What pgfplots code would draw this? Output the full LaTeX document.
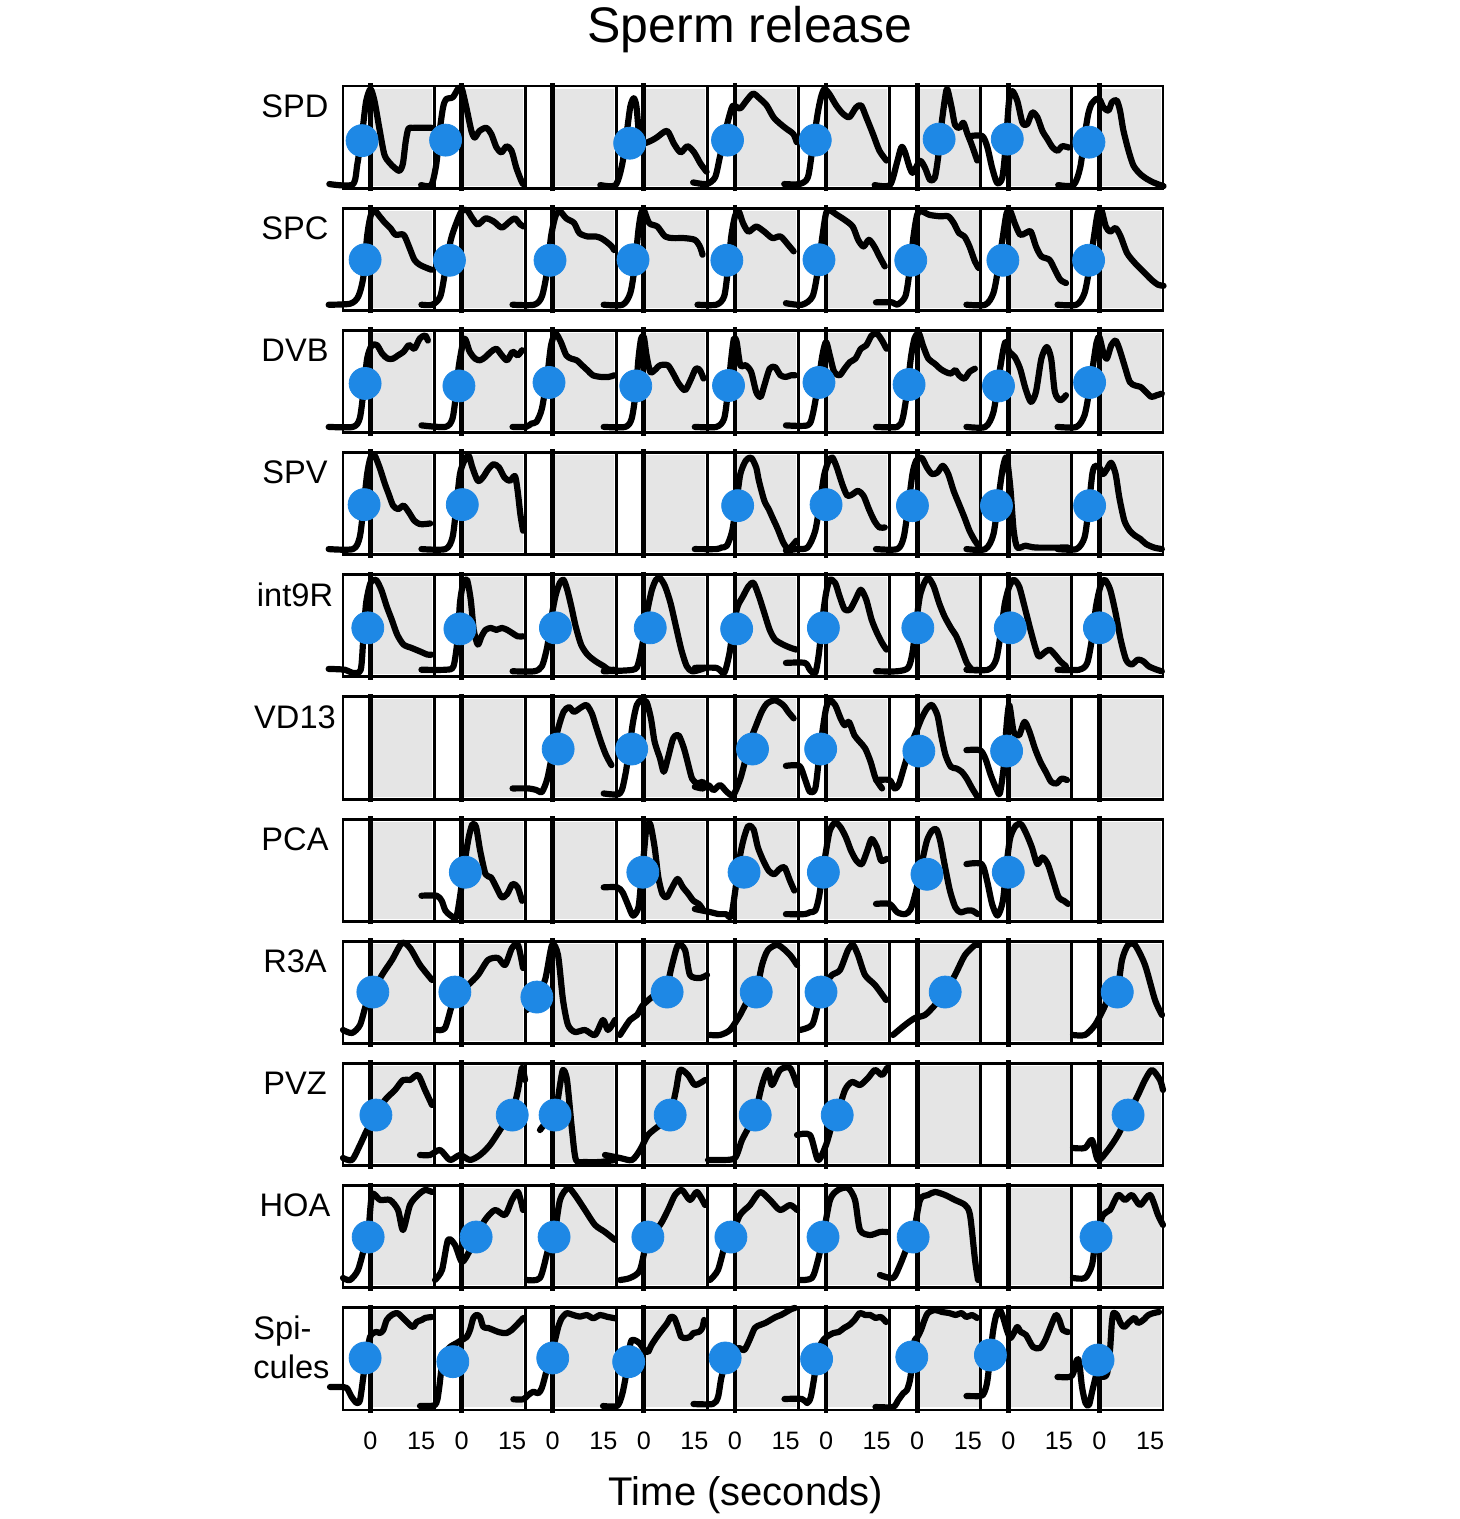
\documentclass[border=0pt]{standalone}
\usepackage{fontspec}
\setmainfont{Liberation Sans}
\usepackage{pgfplots}
\usepackage{pgfplotstable}
\pgfplotsset{compat=1.18}
\definecolor{dotblue}{HTML}{1E88E5}
\definecolor{panelgray}{HTML}{E5E5E5}
\pgfplotsset{trace/.style={black, line width=3.1pt, line join=round, line cap=round, smooth, tension=0.45}}
% panel trace: time (s) relative to the 0 line, signal 0-100 of panel height
\newcommand{\tr}[3]{\addplot[trace, x filter/.expression={x+27*#1}, y filter/.expression={y-119.6*#2}] coordinates {#3};}
% trace given in picture pixels (x from left, y from top)
\newcommand{\trpx}[1]{\addplot[trace, x filter/.expression={(x-370.5)/3.3745}, y filter/.expression={100-(y-86)/1.0216}] coordinates {#1};}

\pgfplotstableread{
c r t v
0 0 -2.5 46.5
1 0 -4.75 47
3 0 -4.2 44
4 0 -2.2 47
5 0 -3.2 47
6 0 6.5 48
7 0 -0.3 48
8 0 -3.1 45
0 1 -1.6 49.5
1 1 -3.6 49
2 1 -0.8 49
3 1 -3.2 49.5
4 1 -2.4 49
5 1 -2.1 49.5
6 1 -1.9 49
7 1 -1.6 49
8 1 -3.2 49
0 2 -1.6 48
1 2 -0.8 45.6
2 2 -1.1 49
3 2 -2.4 45.6
4 2 -1.9 46
5 2 -2.1 49
6 2 -2.4 47
7 2 -2.9 45.6
8 2 -2.9 49
0 3 -1.9 49
1 3 0.2 49
4 3 0.8 48
5 3 0 49
6 3 -1.4 48
7 3 -3.5 48
8 3 -2.9 48
0 4 -0.8 48
1 4 -0.5 47
2 4 0.8 48
3 4 1.9 48
4 4 0.5 47
5 4 -0.8 48
6 4 0.2 48
7 4 0.6 48
8 4 0 48
2 5 1.6 49
3 5 -3.6 49
4 5 5.2 49
5 5 -1.6 49
6 5 0.5 47
7 5 -0.5 47
1 6 1.1 48
3 6 -0.3 48
4 6 2.7 48
5 6 -0.8 48
6 6 2.9 46
7 6 0 48
0 7 0.7 50.3
1 7 -2.0 50.3
2 7 -4.7 45.4
3 7 6.9 50.3
4 7 6.3 50.3
5 7 -1.5 50.3
6 7 8.3 50.3
8 7 5.3 50.3
0 8 1.6 49.5
1 8 15.0 49.5
2 8 0.7 49.5
3 8 7.8 49.5
4 8 6.0 49.5
5 8 3.3 49.5
8 8 8.5 49.5
0 9 -0.7 49.7
1 9 4.3 49.7
2 9 0.4 49.7
3 9 1.2 49.7
4 9 -1.2 49.7
5 9 -0.9 49.7
6 9 -1.2 49.7
8 9 -1.0 49.7
0 10 -1.6 50.9
1 10 -2.6 47.3
2 10 0 50.9
3 10 -4.5 47.3
4 10 -2.9 50.9
5 10 -2.8 49.9
6 10 -1.6 51.9
7 10 -5.3 53.8
8 10 -0.4 48.9
}\dotdata

\begin{document}
\begin{tikzpicture}
\path (0,0) rectangle (730pt,759.5pt);
\begin{scope}[shift={(185.251pt,665.420pt)}, x=1.687243pt, y=0.510802pt]
\foreach \r in {0,...,10}{
 \foreach \c in {0,...,8}{
   \pgfmathsetmacro{\X}{27*\c}
   \pgfmathsetmacro{\Y}{-119.6*\r}
   \fill[panelgray] (\X+0.5,\Y+2.5) rectangle (\X+18.2,\Y+97.5);
   \draw[line width=1.45pt] (\X-8.15,\Y) rectangle (\X+18.85,\Y+100);
   \draw[line width=2.4pt] (\X,\Y-3) -- (\X,\Y+103);
 }}
\end{scope}
\begin{axis}[at={(171.5pt,716.5pt)}, anchor=north west, scale only axis,
  width=410pt, height=662pt, xmin=-8.15, xmax=234.85, ymin=-1196, ymax=100,
  clip=false, axis y line=none, axis x line*=bottom, x axis line style={draw=none},
  major tick length=0pt,
  xtick={0,15,27,42,54,69,81,96,108,123,135,150,162,177,189,204,216,231},
  xticklabels={0,15,0,15,0,15,0,15,0,15,0,15,0,15,0,15,0,15},
  xticklabel style={anchor=base, yshift=-19.6pt, font=\fontsize{12.6pt}{15pt}\selectfont}]
% ---- SPD
\tr{0}{0}{(-12.2,4)(-5.3,3.5)(-3.9,23.6)(-2.4,56)(-1.3,85)(0,97)(1.2,85)(2.6,59)(4.1,33)(5.6,25)(7.1,20)(8.6,17)(9.6,24)(10.4,45)(11.2,58)(12.5,59)(18.7,59)}
\tr{1}{0}{(-12,3)(-9,3)(-7.5,23.6)(-6.5,56)(-5.5,79)(-4.6,87)(-2.6,89)(-1.1,97)(0,98)(1.4,79)(2.9,56)(3.9,49.5)(5.3,56)(7.3,59)(8.8,53)(10.3,40)(11.8,35)(13.3,41)(14.8,36.6)(16.2,20)(17.7,7)(18.2,4)}
\tr{3}{0}{(-12.9,3)(-8.4,3)(-6.4,23.6)(-5.0,56)(-4.0,80)(-3.0,88)(-2.2,80)(-1.3,50)(0,44)(2.5,47)(4,50)(6.9,56)(8.9,43.6)(10.9,35)(12.9,41)(14.9,35)(16.8,24)(18.6,16)}
\tr{4}{0}{(-12.4,5.6)(-8.4,4)(-5.9,10.5)(-4.5,30)(-3.0,53)(-1.5,72.8)(-0.5,81)(1.5,78)(3.5,86)(5.4,92.5)(7.4,87.5)(9.4,81)(11.4,69.5)(13.4,63)(15.3,58)(17.3,53)(18.3,45)}
\tr{5}{0}{(-12.4,4)(-7.9,4)(-5.4,10.5)(-4.0,39.7)(-2.5,72.8)(-1.5,89)(-0.5,97)(1.0,92)(3.0,81)(5.0,72.8)(6.9,69.5)(8.9,79)(10.4,81)(11.9,69.5)(13.9,53)(15.8,36.7)(17.9,27)}
\tr{6}{0}{(-12.6,3)(-8.1,3)(-6.1,23.6)(-4.7,40)(-3.7,36)(-2.2,20)(-1.2,15)(0.8,26.7)(2.3,20)(3.8,8)(5.2,10)(6.2,30)(7.2,62)(8.2,87)(8.9,97)(10.2,79)(11.2,62)(12.5,59)(13.7,64)(14.9,53)(16.1,43)(17.8,27)}
\tr{7}{0}{(-11.2,51)(-7.7,51)(-6.2,40)(-4.8,20)(-3.3,5)(-1.8,10)(-0.8,39.7)(0.2,85)(1.2,95)(2.7,85)(4.2,64)(5.6,62.5)(7.1,74)(8.6,69.5)(10.1,56)(11.6,48)(13.1,40)(14.6,36.6)(16.0,41)(18.0,39.7)}
\tr{8}{0}{(-12.2,3)(-7.7,3)(-5.7,20)(-4.3,53)(-3.3,72.8)(-2.3,82.6)(-0.8,87.5)(0.2,86)(1.2,79)(2.7,76)(3.7,84)(5.1,86)(6.1,76)(7.1,56.7)(8.6,37)(10.1,22)(12.1,13.8)(14.1,8.9)(16.0,5.6)(18.0,3)(19.0,2)}
% ---- SPC
\tr{0}{1}{(-12.4,5.5)(-6.0,6.5)(-3.6,13.7)(-2.1,33)(-1.0,72.6)(0,92)(1.1,98)(2.7,92)(4.3,85.6)(5.9,80.5)(7.4,74)(9.8,74)(11.4,62.5)(13.0,49.5)(14.6,44.6)(17.0,41)(18.1,39.7)}
\tr{1}{1}{(-11.9,5.5)(-8.7,5.5)(-6.3,13.7)(-4.8,39.7)(-3.2,69)(-1.6,85)(0,97)(1.6,98)(3.2,90)(4.8,84)(7.1,90)(9.5,87)(11.9,81)(14.3,87)(15.8,90)(17.4,84)(18.5,82)}
\tr{2}{1}{(-11.9,5.5)(-5.5,5.5)(-3.2,13.7)(-1.6,39.7)(-0.5,72.3)(0.8,92)(2.1,97)(4.0,90)(6.3,85.6)(7.9,75.6)(10.3,72.3)(12.7,72.3)(14.3,70.7)(15.8,67.4)(17.4,62.9)(18.2,59)}
\tr{3}{1}{(-11.9,5.5)(-6.3,5.5)(-4.0,17)(-2.7,43)(-1.6,78.8)(-0.8,95)(0,98)(1.6,85.3)(4.0,82)(6.3,72.3)(8.7,70.7)(11.9,70.7)(15.1,69)(16.6,62.5)(17.4,54.4)}
\tr{4}{1}{(-11.1,5.5)(-5.5,5.5)(-3.2,13.7)(-2.1,39.7)(-1.1,72.3)(0,92)(1.1,97)(2.4,85.3)(4.0,77)(6.3,82)(8.7,77)(11.1,70.7)(13.5,72.3)(15.8,64)(17.4,57.7)}
\tr{5}{1}{(-11.9,7)(-7.1,5.5)(-4.0,13.7)(-2.4,39.7)(-1.1,72.3)(0,95)(1.1,98)(3.2,93.5)(5.5,88.6)(7.9,82)(9.5,69)(11.1,62.5)(12.7,69)(14.3,62.5)(15.8,52.8)(17.4,43)}
\tr{6}{1}{(-12.2,7.8)(-7.4,7.8)(-5.9,5.5)(-3.5,13.7)(-2.2,39.7)(-1.1,72.3)(0,93.5)(1.3,97)(3.6,93.5)(6.8,92)(9.2,92)(10.8,85.6)(12.4,75.6)(14.0,72.3)(15.5,62.5)(17.1,47.9)(18.2,41.4)}
\tr{7}{1}{(-12.4,5.5)(-6.8,5.5)(-4.4,17)(-2.9,43)(-1.6,72.3)(-0.5,95)(0.6,97)(1.9,85.3)(3.5,74)(5.1,75.6)(6.7,77)(8.2,62.5)(9.8,52.8)(12.2,49.5)(13.8,39.7)(15.4,30)(17.1,26.7)}
\tr{8}{1}{(-12.4,5.5)(-6.8,5.5)(-4.4,17)(-2.9,43)(-1.6,72.3)(-0.5,95)(0.6,98)(1.9,82)(3.2,77)(4.8,80.5)(6.3,72.3)(8.2,56)(10.6,46)(13.0,38)(15.4,30)(17.4,25)(19.0,24)}
% ---- DVB
\tr{0}{2}{(-12.4,5.5)(-5.2,5.5)(-3.2,13.7)(-2.1,39.7)(-1.0,72.3)(0.3,85)(1.9,85.6)(3.5,77)(5.1,72.3)(6.7,72.3)(8.2,75.6)(9.8,79)(11.4,85.6)(13.0,82)(14.6,92)(16.2,95)(17.0,90)}
\tr{1}{2}{(-11.9,7)(-4.8,5.5)(-2.7,13.7)(-1.6,39.7)(-0.8,65.8)(0.8,92)(2.4,79)(4.0,72.3)(5.5,70.7)(7.1,74)(8.7,79)(10.3,82)(11.9,75.6)(13.5,70.7)(15.1,79)(16.6,75.6)(17.9,80.5)}
\tr{2}{2}{(-11.9,5.5)(-7.9,5.5)(-6.3,8.8)(-4.8,10.5)(-3.2,23.5)(-1.6,56)(-0.5,85.3)(0.8,97)(2.4,88.6)(4.0,75.6)(5.5,72.3)(7.1,70.7)(8.7,65.8)(10.3,60.9)(11.9,56)(14.3,54.4)(16.6,54.4)(18.2,56)}
\tr{3}{2}{(-11.9,5.5)(-5.5,5.5)(-3.6,13.7)(-2.4,39.7)(-1.6,72.3)(-0.8,92)(0,93.5)(0.8,75.6)(1.9,59.3)(3.2,61)(4.8,65.8)(7.1,65.8)(8.7,57.7)(10.3,48)(12.2,41.4)(13.8,51)(15.4,62.5)(16.6,61)(17.7,52.8)}
\tr{4}{2}{(-11.9,5.5)(-5.5,5.5)(-3.2,13.7)(-2.1,39.7)(-1.1,72.3)(-0.3,92)(0.5,88.6)(1.6,65.8)(3.2,65.8)(4.8,59.3)(6.3,39.7)(7.6,34.9)(8.7,46)(10.3,62.5)(11.9,64)(13.5,56)(15.1,54.4)(16.6,56)(17.9,56)}
\tr{5}{2}{(-11.9,7)(-5.5,7)(-4.0,17)(-2.4,46)(-1.1,75.6)(0,88.6)(1.1,75.6)(2.4,59.3)(4.0,56)(5.5,62.5)(7.1,69)(8.7,72.3)(10.3,82)(11.9,85.3)(13.5,95)(15.1,96.7)(16.6,90)(17.9,82)}
\tr{6}{2}{(-12.2,5.5)(-5.9,5.5)(-4.3,13.7)(-3.0,39.7)(-1.9,72.3)(-0.8,92)(0.5,97)(1.7,85.3)(3.3,72.3)(5.2,67.4)(6.8,62.5)(8.4,59.3)(10.0,57.7)(11.3,61)(12.4,56)(14.0,52.8)(15.5,59.3)(17.1,62.5)}
\tr{7}{2}{(-12.4,5.5)(-6.8,5.5)(-4.4,20)(-2.9,52.8)(-1.6,79)(-0.8,88.6)(0.3,79)(1.9,74)(3.5,62.5)(5.1,43)(6.7,30)(8.2,39.7)(9.8,72.3)(11.4,83.7)(12.7,72.3)(13.8,39.7)(15.4,31.6)(17.1,36.5)}
\tr{8}{2}{(-12.4,5.5)(-6.8,5.5)(-4.4,17)(-2.9,43)(-1.6,72.3)(-0.8,88.6)(0,93.5)(1.1,79)(2.2,72.3)(3.5,85.3)(4.8,90)(5.9,82)(7.4,66)(9.0,49.5)(10.6,46)(12.2,44.6)(13.8,39.7)(15.4,34.9)(17.0,36.5)(18.5,38)}
% ---- SPV
\tr{0}{3}{(-12.4,5.5)(-5.2,5.5)(-3.2,17)(-2.1,46)(-1.0,79)(0,95)(1.1,98)(2.7,85.3)(4.3,69)(5.4,59.3)(6.7,48)(8.2,44.6)(9.8,48)(11.4,41.4)(13.0,33.2)(14.6,30)(16.2,30)(17.7,30.6)}
\tr{1}{3}{(-11.9,5.5)(-4.8,5.5)(-2.7,17)(-1.6,46)(-0.5,79)(0.8,92)(2.1,97)(3.2,85.3)(4.8,72.3)(6.3,75.6)(7.9,83.7)(9.5,88.6)(11.1,85.3)(12.7,75.6)(14.3,72.3)(15.8,77)(16.6,62.5)(17.4,39.7)(18.2,23.5)}
\tr{4}{3}{(-11.9,5.5)(-5.5,5.5)(-4.0,7)(-2.4,8.8)(-0.8,23.5)(0.5,52.8)(1.6,79)(3.2,92)(4.8,95)(6.3,85.3)(7.1,72.3)(8.7,52.8)(10.0,44.6)(11.1,36.5)(12.7,25)(14.3,12)(15.8,5.5)(17.4,10.5)(18.2,13.7)}
\tr{5}{3}{(-11.9,4)(-8.7,5.5)(-5.5,7)(-3.2,23.5)(-1.6,56)(-0.5,79)(0.8,92)(1.9,95)(3.2,85.3)(4.8,69)(6.3,57.7)(7.9,59.3)(9.5,62.5)(11.1,57.7)(12.7,44.6)(14.3,33.2)(15.8,26.7)(17.4,26.7)}
\tr{6}{3}{(-12.2,5.5)(-5.9,5.5)(-4.0,17)(-2.7,46)(-1.4,79)(-0.3,92)(1.3,95)(2.9,85.3)(4.4,79)(6.0,80.5)(7.6,87)(9.2,79)(10.8,62.5)(12.4,49.5)(14.0,36.5)(15.5,23.5)(17.1,13.7)(18.2,8.8)}
\tr{7}{3}{(-12.4,5.5)(-6.8,5.5)(-4.4,20)(-2.9,56)(-1.6,85.3)(-0.5,95)(0.6,66)(1.6,23.5)(2.7,7)(5.1,8.8)(8.2,7)(17.7,7)}
\tr{8}{3}{(-12.4,5.5)(-6.8,5.5)(-4.4,17)(-3.2,46)(-2.1,79)(-1.3,87)(0,85.3)(1.1,79)(2.2,83.7)(3.5,90)(4.8,79)(5.9,56)(7.4,33.2)(9.0,23.5)(10.6,18.6)(12.2,15.3)(13.8,10.5)(16.2,7)(18.5,5.5)}
% ---- int9R
\tr{0}{4}{(-12.4,7.8)(-7.6,7)(-5.2,3.9)(-2.9,7)(-2.1,39.7)(-1.3,72.3)(0,92)(1.6,95)(3.2,85.3)(4.8,69)(6.3,56)(7.9,41.4)(9.8,31.6)(12.2,28.3)(14.6,25)(16.9,21.8)(18.1,21.8)}
\tr{1}{4}{(-11.9,7)(-4.8,7)(-2.4,10.5)(-1.1,39.7)(-0.5,72.3)(0.5,92)(1.6,95)(2.7,75.6)(3.6,46)(4.8,31.6)(5.9,39.7)(7.1,46)(8.7,47.9)(10.3,46)(11.9,47.9)(13.5,46)(15.1,42.7)(16.6,39.7)(18.2,39.7)}
\tr{2}{4}{(-11.9,5.5)(-5.5,5.5)(-3.2,10.5)(-1.6,30)(-0.5,56)(0.8,79)(2.1,92)(3.2,95)(4.3,85.3)(5.5,69)(6.8,49.5)(8.4,31.6)(10.3,21.8)(12.7,15.3)(15.1,10.5)(16.6,7)(18.2,7)}
\tr{3}{4}{(-11.9,5.5)(-3.2,7)(-1.6,13.7)(0,39.7)(1.1,65.8)(2.4,85.3)(3.6,95)(4.8,96.7)(6.3,88.6)(7.9,72.3)(9.5,49.5)(11.1,26.7)(12.7,10.5)(14.3,5.5)(16.6,7)(18.2,8.8)}
\tr{4}{4}{(-11.9,8.8)(-5.5,8.8)(-3.2,3.9)(-1.6,23.5)(-0.5,49.5)(0.8,69)(2.4,79)(4.0,88.6)(5.5,92)(7.1,79)(8.7,62.5)(10.3,46)(11.9,36.5)(14.3,31.6)(16.6,28.3)(18.2,26.7)}
\tr{5}{4}{(-11.9,13.7)(-6.3,13.7)(-4.8,7)(-3.2,3.9)(-2.1,23.5)(-1.1,56)(0,82)(1.1,95)(2.7,92)(4.0,79)(5.5,66)(7.1,66)(8.7,75.6)(10.3,85.3)(11.9,75.6)(13.5,56)(15.1,43)(16.6,33.2)(17.9,26.7)}
\tr{6}{4}{(-12.2,5.5)(-5.9,5.5)(-2.7,8.8)(-1.4,23.5)(-0.3,52.8)(0.8,79)(2.1,92)(3.3,97)(4.9,88.6)(6.5,72.3)(8.1,59.3)(10.0,47.9)(11.6,39.7)(13.2,26.7)(14.7,13.7)(16.3,7)(17.9,7)}
\tr{7}{4}{(-12.4,7)(-6.0,7)(-3.6,16.9)(-2.1,46)(-1.0,72.3)(0.3,88.6)(1.6,95)(3.2,88.6)(4.8,69)(6.3,49.5)(7.9,30)(9.0,20)(10.6,23.5)(12.2,26.7)(13.8,21.8)(15.4,15.3)(17.1,10.4)}
\tr{8}{4}{(-12.4,7)(-6.0,7)(-3.6,13.7)(-2.1,39.7)(-1.0,69)(0.3,88.6)(1.6,95)(3.2,85.3)(4.8,62.5)(6.3,36.5)(7.9,16.9)(9.5,12)(11.4,16.9)(13.0,15.3)(14.6,10.4)(17.0,7)(18.5,5.5)}
% ---- VD13
\tr{2}{5}{(-11.9,10.4)(-7.1,10.4)(-4.8,8.8)(-3.2,7)(-1.6,20)(0,46)(1.6,69)(3.2,85.3)(4.8,90)(6.3,85.3)(7.9,88.6)(10.0,92)(11.6,83.7)(12.7,72.3)(14.3,56)(15.8,43)(17.4,33.2)}
\tr{3}{5}{(-11.9,5.5)(-7.1,5.5)(-5.5,23.5)(-4.3,49.5)(-3.2,75.6)(-2.1,92)(-0.8,97)(0.8,95)(2.1,79)(3.2,56)(4.8,39.7)(5.9,26.7)(7.1,39.7)(8.7,59.3)(10.3,62.5)(11.9,49.5)(13.2,33.2)(14.3,20)(15.8,15.3)(17.4,16.9)(18.2,13.7)}
\tr{4}{5}{(-11.9,12)(-9.5,10.4)(-7.9,13.7)(-6.3,8.8)(-4.4,13.7)(-2.4,7)(-0.5,3.9)(1.6,20)(3.2,39.7)(4.8,59.3)(6.3,72.3)(7.9,85.3)(9.5,93.5)(11.9,96.7)(14.3,92)(15.8,85.3)(17.4,79)}
\tr{5}{5}{(-11.9,32.5)(-7.9,32.5)(-6.3,20)(-4.8,7)(-3.2,10.4)(-2.1,39.7)(-1.1,65.8)(0,88.6)(1.1,96.7)(2.7,92)(4.3,79)(5.5,72.3)(6.8,75.6)(8.4,62.5)(10.0,56)(11.6,49.5)(13.2,36.5)(14.7,20)(16.6,10.4)}
\tr{6}{5}{(-12.2,18.6)(-8.2,18.6)(-6.7,10.4)(-5.5,13.7)(-4.0,30)(-1.9,52.8)(-0.3,65.8)(1.3,79)(2.9,88.6)(4.4,92)(6.0,82)(7.1,62.5)(8.4,43)(10.0,31.6)(11.6,30)(13.2,26.7)(14.7,20)(16.3,10.4)(17.9,2)}
\tr{7}{5}{(-12.4,47.9)(-8.4,47.9)(-6.8,39.7)(-5.2,23.5)(-3.6,10.4)(-2.5,5.5)(-1.3,33.2)(-0.5,72.3)(0.3,92)(1.6,65.8)(3.2,62.5)(4.8,75.6)(6.3,65.8)(7.9,49.5)(9.5,36.5)(11.1,26.7)(12.7,16.9)(14.3,15.3)(15.8,20)(17.4,18.6)}
% ---- PCA
\tr{1}{6}{(-11.9,25)(-7.4,25)(-5.9,20)(-4.8,10.4)(-3.2,5.5)(-1.6,3.9)(-0.5,23.5)(0.8,56)(2.1,82)(3.2,95)(4.3,92)(5.5,69)(7.1,46)(8.7,43)(10.3,33.2)(11.9,23.5)(13.5,26.7)(15.1,36.5)(16.6,33.2)(17.9,20)}
\tr{3}{6}{(-11.9,33.2)(-7.9,33.2)(-6.3,28.3)(-4.8,16.9)(-3.2,5.5)(-1.6,13.7)(-0.8,39.7)(0,65.8)(0.8,92)(1.9,95)(3.2,72.3)(4.3,43)(5.5,26.7)(6.8,23.5)(8.4,33.2)(10.0,41.4)(11.6,33.2)(13.2,26.7)(14.7,20)(16.3,16.9)(17.4,12)}
\tr{4}{6}{(-11.9,12)(-9.5,10.4)(-7.1,8.8)(-4.8,7)(-2.7,7)(-1.1,5.5)(0.5,39.7)(1.6,65.8)(2.7,82)(4.0,93.5)(5.5,90)(6.8,72.3)(8.4,59.3)(10.0,49.5)(11.6,46)(13.2,51)(14.7,52.8)(16.3,39.7)(17.6,30)}
\tr{5}{6}{(-11.9,7)(-6.3,7)(-4.8,8.8)(-3.2,10.4)(-2.1,23.5)(-1.1,46)(0,69)(1.1,88.6)(2.7,96.7)(4.3,92)(5.9,82)(7.4,69)(9.0,59.3)(10.6,56)(12.2,69)(13.5,80.5)(15.1,72.3)(16.3,59.3)(17.9,61)}
\tr{6}{6}{(-12.2,17)(-8.2,17)(-5.9,8.8)(-3.5,7)(-1.9,12)(-0.3,30)(1.3,56)(2.9,79)(4.4,88.6)(5.7,90)(6.8,79)(8.1,56)(9.7,30)(11.3,13.7)(12.8,8.8)(14.7,10.4)(16.3,10.4)(17.9,7)}
\tr{7}{6}{(-12.4,56)(-7.9,56)(-6.3,39.7)(-4.8,16.9)(-3.2,5.5)(-1.6,20)(-0.5,56)(0.6,82)(2.2,93.5)(3.8,95)(5.4,85.3)(7.0,72.3)(8.6,56)(10.1,62.5)(11.7,56)(13.3,39.7)(14.9,23.5)(16.5,20)(17.7,16.9)}
% ---- R3A (pixel readings)
\trpx{(343,1030)(352,1033)(360,1025)(366,1005)(373,992)(382,975)(392,960)(402,943)(410,948)(420,965)(432,980)}
\trpx{(437,1030)(445,1028)(452,1005)(458,992)(468,985)(478,975)(488,960)(498,958)(505,965)(512,948)(518,945)(523,968)}
\trpx{(527,1010)(535,1000)(545,980)(552,945)(558,955)(563,1000)(568,1025)(575,1032)(585,1030)(595,1035)(603,1020)(608,1030)(615,1020)}
\trpx{(620,1035)(630,1020)(637,1015)(643,1005)(655,995)(665,993)(672,965)(678,945)(685,950)(690,975)(700,978)(707,975)}
\trpx{(710,1035)(720,1035)(730,1030)(740,1015)(748,1000)(756,993)(762,965)(768,950)(778,945)(790,955)(797,965)}
\trpx{(800,1030)(812,1025)(818,1005)(825,985)(832,975)(840,970)(848,950)(853,945)(858,955)(865,975)(875,985)(886,1000)}
\trpx{(893,1035)(905,1025)(915,1018)(925,1015)(935,1005)(945,993)(955,975)(965,955)(975,945)(978,945)}
\trpx{(1073,1035)(1085,1035)(1095,1025)(1103,1010)(1110,995)(1117,993)(1122,960)(1128,945)(1135,945)(1145,965)(1155,1000)(1162,1015)}
% ---- PVZ
\trpx{(343,1158)(352,1160)(360,1145)(367,1130)(376,1115)(385,1100)(395,1090)(403,1080)(410,1080)(418,1075)(425,1090)(432,1105)}
\trpx{(420,1155)(430,1155)(440,1150)(450,1160)(460,1155)(470,1160)(480,1155)(490,1145)(500,1130)(508,1118)(512,1115)(518,1090)(522,1068)(525,1080)}
\trpx{(540,1130)(548,1120)(555,1115)(560,1085)(563,1070)(567,1080)(572,1130)(576,1160)(585,1162)(600,1162)(615,1160)}
\trpx{(605,1155)(620,1158)(632,1160)(640,1150)(648,1135)(660,1125)(670,1115)(676,1090)(680,1070)(688,1075)(695,1085)(705,1080)}
\trpx{(708,1160)(722,1160)(735,1158)(742,1140)(750,1125)(755,1115)(762,1085)(768,1070)(772,1085)(780,1070)(790,1068)(797,1085)}
\trpx{(797,1135)(810,1135)(818,1160)(826,1145)(832,1125)(837,1115)(845,1090)(852,1082)(860,1085)(868,1078)(875,1070)(882,1075)(887,1068)}
\trpx{(1073,1148)(1085,1148)(1092,1140)(1098,1160)(1108,1150)(1118,1135)(1128,1115)(1138,1095)(1145,1080)(1152,1070)(1160,1080)(1163,1090)}
% ---- HOA
\trpx{(343,1278)(350,1280)(358,1270)(365,1245)(368,1237)(372,1195)(380,1200)(390,1200)(398,1210)(403,1230)(410,1205)(418,1195)(425,1190)(432,1192)}
\trpx{(435,1280)(442,1270)(448,1240)(455,1245)(462,1262)(470,1250)(476,1237)(485,1220)(495,1210)(505,1215)(512,1200)(518,1192)(523,1210)}
\trpx{(527,1280)(540,1278)(548,1250)(554,1237)(560,1200)(568,1188)(575,1195)(585,1210)(595,1225)(605,1232)(615,1240)}
\trpx{(620,1280)(630,1278)(640,1270)(648,1237)(660,1225)(668,1210)(675,1195)(682,1190)(690,1200)(697,1192)(705,1205)}
\trpx{(710,1280)(718,1270)(725,1245)(731,1237)(740,1215)(750,1205)(760,1192)(770,1200)(780,1210)(790,1205)(797,1210)}
\trpx{(800,1280)(812,1278)(818,1260)(823,1237)(830,1200)(838,1190)(848,1188)(855,1200)(860,1230)(870,1235)(880,1232)(887,1232)}
\trpx{(880,1275)(893,1278)(900,1265)(908,1245)(913,1237)(920,1200)(928,1195)(935,1192)(945,1195)(955,1200)(965,1205)(970,1215)(975,1260)(978,1280)}
\trpx{(1073,1278)(1085,1278)(1092,1265)(1096,1237)(1103,1215)(1110,1210)(1118,1195)(1125,1200)(1132,1195)(1140,1205)(1150,1195)(1158,1215)(1163,1225)}
% ---- Spicules
\trpx{(330,1387)(340,1387)(346.7,1388)(351.7,1397)(356.7,1403)(360,1400)(363.3,1377)(366,1357)(370,1337)(373.3,1333)(376.7,1332)(380,1333)(383.3,1330)(386.7,1320)(391.7,1315)(396.7,1313)(400,1315)(405,1320)(410,1325)(413.3,1327)(416.7,1322)(421.7,1320)(425,1318)(431.7,1317)}
\trpx{(420,1406)(430,1406)(435,1405)(437.3,1400)(439.3,1387)(441.7,1367)(445,1353)(450,1347)(456.7,1343)(461.7,1340)(466.7,1337)(470,1330)(473.3,1318)(476.7,1315)(480,1317)(483.3,1327)(488.3,1328)(493.3,1330)(498.3,1332)(503.3,1333)(506.7,1333)(511.7,1330)(516.7,1325)(523.3,1318)}
\trpx{(513.3,1399.3)(523.3,1399.3)(528.3,1395)(533.3,1391.7)(538.3,1393.3)(541.7,1388.3)(545,1376.7)(548.3,1363.3)(551.7,1350)(555,1340)(558.3,1326.7)(561.7,1318.3)(566.7,1313.3)(573.3,1315)(580,1316.7)(586.7,1315)(593.3,1318.3)(600,1315)(606.7,1316.7)(615,1318.3)}
\trpx{(603,1406)(617,1406)(622,1395)(626,1375)(630.5,1343)(634,1340)(639.3,1343)(644.5,1350)(648,1352)(651.5,1345)(656.8,1337)(662,1330)(667.3,1323)(670.8,1317)(674.3,1318)(677.8,1327)(681.3,1337)(686.5,1338)(690,1337)(693.5,1333)(698.8,1332)(702.3,1328)(704,1320)}
\trpx{(693.5,1404)(712.8,1404)(718,1397)(721.5,1377)(728,1355)(732,1352)(739,1348)(744.3,1350)(749.5,1340)(754.8,1328)(760,1325)(765.3,1323)(770.5,1320)(775.8,1317)(781,1315)(786.3,1312)(791.5,1309)(795,1308)}
\trpx{(784.5,1399)(802,1399)(807.3,1403)(810.8,1397)(814.3,1377)(817,1360)(821.3,1343)(826.5,1337)(833.5,1333)(838.8,1332)(844,1328)(849.3,1325)(854.5,1320)(859.8,1313)(865,1315)(870.3,1315)(875.5,1318)(880.8,1317)(886,1322)}
\trpx{(875.5,1407)(893,1407)(898.3,1400)(903.5,1393)(907,1390)(910.5,1377)(914,1343)(917.5,1337)(921,1330)(924.5,1320)(928,1313)(935,1310)(942,1312)(949,1313)(956,1315)(961.3,1313)(966.5,1317)(971.8,1315)(977,1318)}
\trpx{(966.5,1396)(980.5,1396)(984,1393)(987.5,1380)(992.8,1333)(996.3,1315)(999.8,1310)(1003.3,1318)(1006.8,1330)(1010.3,1338)(1013.8,1333)(1017.3,1327)(1020.8,1332)(1026,1335)(1033,1347)(1040,1348)(1045.3,1340)(1050.5,1327)(1055.8,1315)(1059.3,1320)(1062.8,1330)(1068,1332)}
\trpx{(1057.5,1377)(1069.8,1377)(1073.3,1373)(1076.8,1360)(1079.2,1362)(1082,1387)(1085.5,1403)(1089,1405)(1092.5,1390)(1098,1370)(1103,1377)(1107.2,1373)(1110,1350)(1111.8,1323)(1113.5,1313)(1117,1315)(1120.5,1323)(1124,1327)(1129.3,1322)(1134.5,1318)(1138,1323)(1143.3,1320)(1148.5,1315)(1153.8,1313)(1159,1312)}
% ---- dots
\addplot[only marks, mark=*, mark size=8pt, color=dotblue, mark options={draw=none}]
  table[x expr=\thisrow{t}+27*\thisrow{c}, y expr=\thisrow{v}-119.6*\thisrow{r}] {\dotdata};
\end{axis}
\begin{scope}[every node/.style={inner sep=0pt, align=center, font=\fontsize{16.3pt}{19.5pt}\selectfont, anchor=north}]
\node at (147.5pt,712.5pt) {SPD};
\node at (147.5pt,651.41pt) {SPC};
\node at (147.5pt,590.32pt) {DVB};
\node at (147.5pt,529.23pt) {SPV};
\node at (147.5pt,468.14pt) {int9R};
\node at (147.5pt,407.05pt) {VD13};
\node at (147.5pt,345.96pt) {PCA};
\node at (147.5pt,284.87pt) {R3A};
\node at (147.5pt,223.78pt) {PVZ};
\node at (147.5pt,162.69pt) {HOA};
\node[align=left, anchor=north west] at (126.5pt,101.6pt) {Spi-\\cules};
\end{scope}
\node[anchor=base, inner sep=0pt, font=\fontsize{25pt}{30pt}\selectfont] at (375pt,738pt) {Sperm release};
\node[anchor=base, inner sep=0pt, font=\fontsize{20pt}{24pt}\selectfont] at (373pt,6.5pt) {Time (seconds)};
\end{tikzpicture}
\end{document}
